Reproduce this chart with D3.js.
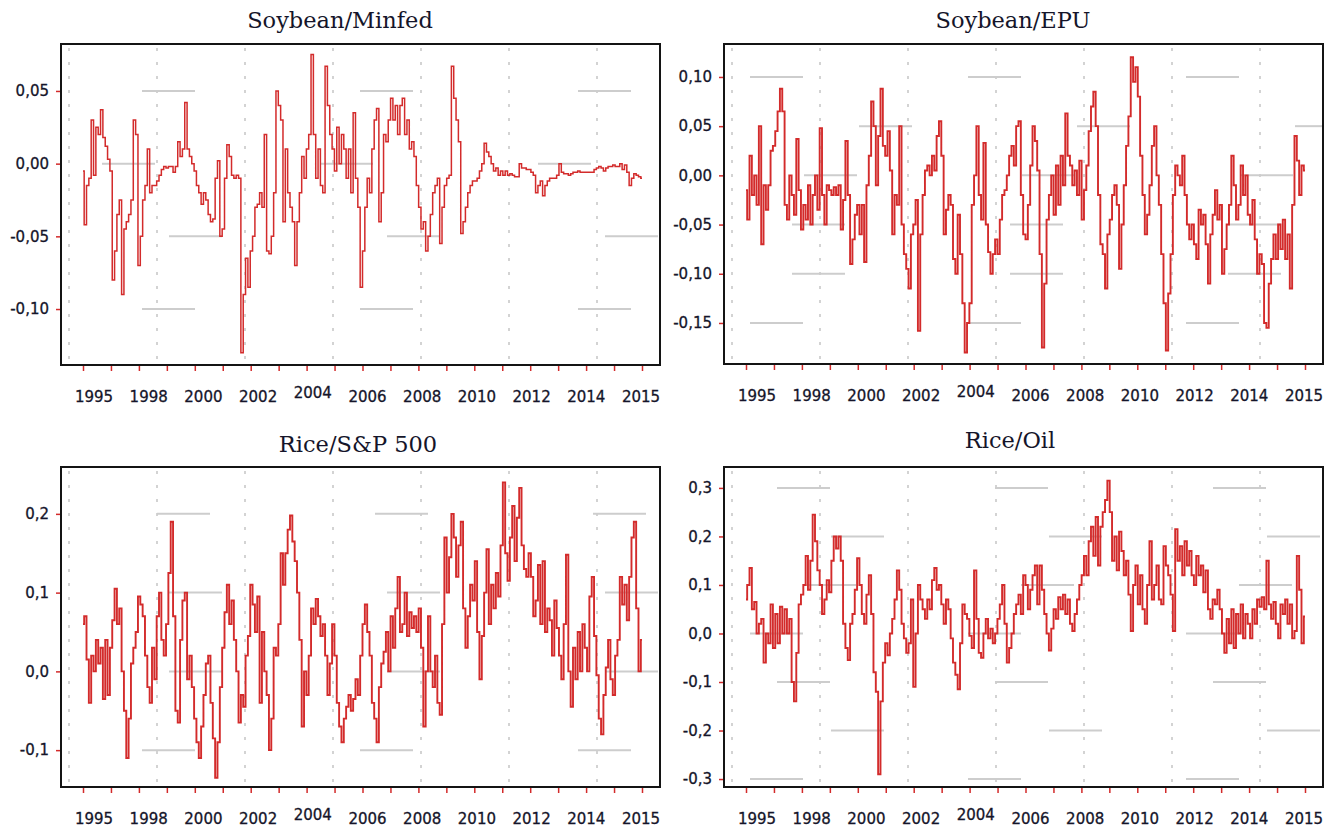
<!DOCTYPE html>
<html><head><meta charset="utf-8">
<script src="https://cdn.jsdelivr.net/npm/d3@7"></script>
<style>body{margin:0;background:#fff}</style>
</head><body>
<svg id="c" width="1342" height="831"></svg>
<script>
// Monthly values, Jan 1995 .. Dec 2014 (12 per row = one year)
const soyMinfed = [
-0.005,-0.042,-0.015,-0.01,0.03,-0.008,0.025,0.02,0.037,0.018,0.012,0.003,
-0.005,-0.08,-0.06,-0.035,-0.025,-0.09,-0.045,-0.04,-0.035,-0.025,0.03,0.02,
-0.07,-0.05,-0.025,-0.015,0.01,-0.02,-0.015,-0.015,-0.012,-0.008,-0.004,-0.002,
-0.003,-0.002,-0.002,-0.006,-0.002,0.015,0.005,0.01,0.042,0.01,0.005,0,
-0.005,-0.015,-0.02,-0.028,-0.02,-0.025,-0.035,-0.04,-0.038,-0.01,0.002,-0.05,
-0.045,-0.01,0.013,0.005,-0.008,-0.01,-0.008,-0.01,-0.13,-0.09,-0.065,-0.085,
-0.06,-0.05,-0.03,-0.028,-0.02,-0.03,0.02,-0.06,-0.062,-0.05,-0.02,0.05,
0.04,0.03,-0.04,0.01,-0.02,-0.03,-0.04,-0.07,-0.04,-0.02,0.005,-0.01,
0.01,0.02,0.075,0.02,-0.01,0.01,-0.015,-0.02,0.067,0.04,0.02,0.01,
-0.005,0.025,0,0.02,0.01,-0.01,0.01,-0.02,0.035,-0.01,-0.03,-0.085,
-0.06,-0.03,-0.01,-0.02,0.01,0.03,0.038,-0.04,-0.02,0.02,0.015,0.03,
0.045,0.03,0.04,0.02,0.04,0.045,0.02,0.03,0.01,0.015,0.005,-0.015,
-0.03,-0.045,-0.04,-0.06,-0.05,-0.035,-0.02,-0.015,-0.01,-0.055,-0.03,-0.015,
-0.01,-0.008,0.067,0.045,0.03,0.015,-0.048,-0.04,-0.03,-0.02,-0.015,-0.012,
-0.012,-0.01,-0.005,0,0.014,0.008,0.005,0,-0.005,-0.003,-0.008,-0.005,
-0.008,-0.005,-0.008,-0.007,-0.008,-0.009,-0.009,0,-0.003,-0.003,-0.004,-0.004,
-0.006,-0.008,-0.02,-0.015,-0.012,-0.022,-0.015,-0.012,-0.01,-0.01,-0.01,-0.008,
0,-0.006,-0.007,-0.007,-0.008,-0.007,-0.006,-0.006,-0.005,-0.006,-0.006,-0.006,
-0.006,-0.006,-0.006,-0.004,-0.003,-0.002,-0.003,-0.005,-0.003,-0.002,-0.002,-0.001,
-0.002,-0.002,0,-0.004,-0.001,-0.006,-0.015,-0.01,-0.007,-0.008,-0.009,-0.01];

const soyEPU = [
-0.015,-0.045,0.02,-0.02,0.0,-0.03,0.05,-0.07,-0.01,-0.035,-0.01,0.025,
0.03,0.045,0.065,0.088,0.065,-0.03,-0.045,0.0,-0.02,-0.04,0.037,-0.015,
-0.055,-0.03,-0.045,-0.01,-0.05,-0.02,0.0,-0.035,0.048,-0.02,-0.05,-0.01,
-0.015,-0.02,-0.012,-0.02,-0.01,-0.055,-0.025,0.035,-0.02,-0.09,-0.065,-0.04,
-0.03,-0.06,-0.03,-0.088,-0.01,0.02,0.075,0.05,-0.01,0.04,0.088,0.03,
0.02,0.045,0.005,-0.06,-0.02,-0.03,0.05,-0.05,-0.08,-0.095,-0.115,-0.06,
-0.05,-0.025,-0.158,-0.06,-0.02,0.005,0.01,0.0,0.02,0.005,0.04,0.055,
0.02,-0.06,-0.035,-0.02,-0.03,-0.085,-0.1,-0.04,-0.08,-0.13,-0.18,-0.15,
-0.13,-0.03,0.0,0.05,-0.02,-0.045,0.033,-0.05,-0.078,-0.1,-0.08,-0.065,
-0.08,-0.045,-0.02,-0.015,0.0,0.02,0.03,0.01,0.05,0.055,-0.02,-0.06,
-0.065,-0.03,0.01,0.05,0.035,0.005,-0.08,-0.175,-0.11,-0.045,-0.02,0.0,
-0.04,0.01,-0.03,0.02,-0.01,0.063,0.02,0.01,-0.01,0.005,-0.02,0.015,
-0.045,-0.015,0.01,0.045,0.07,0.085,0.05,-0.02,-0.07,-0.08,-0.115,-0.06,
-0.045,-0.02,-0.01,-0.03,-0.095,-0.05,-0.01,0.03,0.06,0.12,0.095,0.11,
0.08,0.02,-0.02,-0.06,-0.04,-0.01,0.03,0.05,0.0,-0.03,-0.08,-0.13,
-0.178,-0.12,-0.08,-0.02,0.01,0.0,-0.01,0.02,-0.02,-0.05,-0.065,-0.05,
-0.07,-0.085,-0.035,-0.05,-0.04,-0.07,-0.11,-0.06,-0.04,-0.015,-0.045,-0.03,
-0.1,-0.075,-0.05,-0.03,0.02,-0.01,-0.045,-0.03,0.01,-0.02,0.0,-0.04,
-0.05,-0.025,-0.065,-0.1,-0.08,-0.09,-0.15,-0.155,-0.11,-0.085,-0.06,-0.085,
-0.05,-0.075,-0.045,-0.085,-0.06,-0.115,-0.03,0.04,0.015,-0.02,0.01,0.005];

const riceSP500 = [
0.06,0.07,0.015,-0.04,0.02,0.0,0.04,0.01,0.03,-0.035,0.04,-0.03,
0.03,0.065,0.105,0.06,0.08,0.0,-0.05,-0.11,-0.06,0.01,0.03,0.05,
0.095,0.085,0.07,0.02,-0.02,-0.04,0.03,-0.01,0.07,0.1,0.04,0.02,
0.06,0.125,0.19,0.07,-0.05,-0.065,0.04,0.09,0.1,-0.01,0.02,-0.02,
-0.06,-0.09,-0.11,-0.07,-0.03,0.01,0.02,-0.04,-0.085,-0.135,-0.09,-0.02,
0.03,0.075,0.11,0.06,0.09,0.04,0.0,-0.065,-0.03,-0.045,0.02,0.045,
0.11,0.085,0.05,0.095,-0.04,0.05,0.0,-0.03,-0.1,-0.06,0.03,0.02,
0.06,0.15,0.11,0.15,0.18,0.198,0.165,0.14,0.1,0.04,-0.07,0.0,
-0.03,0.02,0.08,0.06,0.092,0.07,0.045,0.06,0.02,-0.03,0.01,0.06,
0.02,-0.04,-0.07,-0.09,-0.06,-0.045,-0.03,-0.05,-0.035,-0.01,-0.03,0.02,
0.06,0.085,0.05,0.02,-0.04,-0.06,-0.09,-0.02,0.01,0.025,0.05,0.0,
0.07,0.03,0.08,0.12,0.05,0.06,0.1,0.045,0.075,0.055,0.07,0.05,
0.08,0.03,-0.07,0.0,0.07,0.0,-0.02,0.02,-0.04,-0.055,0.06,0.17,
0.1,0.145,0.2,0.17,0.12,0.16,0.19,0.08,0.03,0.07,0.11,0.09,
0.14,0.05,-0.01,0.045,0.1,0.155,0.06,0.11,0.08,0.125,0.095,0.16,
0.24,0.15,0.115,0.17,0.21,0.14,0.195,0.233,0.16,0.13,0.12,0.15,
0.12,0.07,0.09,0.135,0.06,0.14,0.05,0.08,0.065,0.02,0.09,0.055,
0.02,-0.01,0.06,0.148,0.0,-0.045,0.03,-0.01,0.05,0.0,0.06,0.03,
0.0,0.095,0.12,0.045,-0.005,-0.06,-0.08,-0.03,0.005,0.04,-0.01,-0.03,
0.02,0.04,0.12,0.085,0.11,0.065,0.12,0.17,0.19,0.08,0.0,0.04];

const riceOil = [
0.07,0.1,0.135,0.05,0.065,0.0,0.02,0.03,-0.06,0.0,-0.02,0.06,
-0.03,0.04,-0.02,0.055,0.0,0.05,0.0,0.03,-0.1,-0.14,-0.04,0.06,
0.08,0.1,0.16,0.09,0.15,0.245,0.19,0.13,0.1,0.04,0.07,0.11,
0.085,0.15,0.2,0.175,0.2,0.15,0.02,-0.03,-0.055,0.02,0.04,0.09,
0.155,0.1,0.04,0.02,0.08,0.12,0.04,-0.08,-0.12,-0.29,-0.14,-0.06,
-0.02,-0.045,0.0,0.03,0.07,0.13,0.09,0.02,-0.01,-0.04,-0.02,0.07,
-0.11,0.0,0.1,0.07,0.05,0.03,0.07,0.05,0.11,0.135,0.09,0.1,
0.06,0.02,0.07,0.05,-0.01,-0.06,-0.085,-0.115,-0.02,0.06,0.04,0.03,
-0.005,-0.03,0.13,0.03,-0.04,-0.05,0.0,0.03,-0.01,0.01,-0.02,0.0,
0.03,0.06,0.1,0.02,-0.06,-0.03,0.0,0.04,0.06,0.08,0.04,0.12,
0.1,0.05,0.09,0.12,0.14,0.06,0.14,0.09,0.04,0.0,-0.035,0.01,
0.05,0.03,0.075,0.05,0.08,0.04,0.07,0.02,0.005,0.04,0.07,0.1,
0.12,0.16,0.12,0.19,0.22,0.16,0.24,0.14,0.22,0.25,0.275,0.315,
0.25,0.15,0.2,0.13,0.21,0.17,0.12,0.15,0.08,0.005,0.1,0.14,
0.06,0.12,0.05,0.02,0.1,0.19,0.07,0.1,0.14,0.07,0.06,0.18,
0.14,0.12,0.08,0.005,0.215,0.15,0.18,0.12,0.19,0.14,0.17,0.12,
0.1,0.16,0.12,0.14,0.085,0.13,0.05,0.03,0.07,0.06,0.09,0.05,
0.0,-0.04,0.03,-0.02,0.05,-0.03,0.04,0.0,0.06,-0.01,0.04,0.02,
-0.01,0.05,0.02,0.07,0.055,0.075,0.05,0.15,0.06,0.03,0.065,0.02,
-0.01,0.06,0.04,0.07,0.02,0.06,-0.01,0.005,0.16,0.09,-0.02,0.035];

const yearLabels = ["1995","1998","2000","2002","2004","2006","2008","2010","2012","2014","2015"];
const yearTicks = d3.range(1995, 2016);
const ticksSoyMinfed = [0.05, 0, -0.05, -0.10];
const ticksSoyEPU = [0.10, 0.05, 0, -0.05, -0.10, -0.15];
const ticksRiceSP = [0.2, 0.1, 0, -0.1];
const ticksRiceOil = [0.3, 0.2, 0.1, 0, -0.1, -0.2, -0.3];
const titles = ["Soybean/Minfed", "Soybean/EPU", "Rice/S&P 500", "Rice/Oil"];

const panels = [
  {title: titles[0], data: soyMinfed, ticks: ticksSoyMinfed, fmt: ".2f", yDomain: [-0.1385, 0.0823],
   box: {x: 61, y: 44, w: 599, h: 321}, tx: 340, ty: 28, gridOff: [81, 41, 108, 81], sw: 1.5},
  {title: titles[1], data: soyEPU, ticks: ticksSoyEPU, fmt: ".2f", yDomain: [-0.1917, 0.1335],
   box: {x: 724, y: 44, w: 599, h: 320}, tx: 1013, ty: 28, gridOff: [26, 135, 80, 68, 68, 26], sw: 1.9},
  {title: titles[2], data: riceSP500, ticks: ticksRiceSP, fmt: ".1f", yDomain: [-0.1468, 0.2595],
   box: {x: 61, y: 467, w: 599, h: 320}, tx: 358, ty: 452, gridOff: [96, 108, 108, 81], sw: 1.9},
  {title: titles[3], data: riceOil, ticks: ticksRiceOil, fmt: ".1f", yDomain: [-0.3164, 0.3431],
   box: {x: 724, y: 467, w: 599, h: 320}, tx: 1010, ty: 448, gridOff: [53, 107, 79, 26, 53, 107, 26], sw: 1.9}
];

const loc = d3.formatLocale({decimal: ",", thousands: ".", grouping: [3], currency: ["", ""], minus: "-"});
const svg = d3.select("#c");
const RED = "#d32b2b";
const TXT = "#15152a";
const LBL_FONT = "15px 'DejaVu Sans'";

panels.forEach(p => {
  const {x: bx, y: by, w, h} = p.box;
  const g = svg.append("g");
  const xs = d3.scaleLinear().domain([1995, 2015]).range([bx + 22, bx + 581]);
  const ys = d3.scaleLinear().domain(p.yDomain).range([by + h, by]);

  // vertical dotted grid
  d3.range(7).forEach(k => {
    g.append("line").attr("x1", bx + 8 + 88 * k).attr("x2", bx + 8 + 88 * k)
      .attr("y1", by + 4).attr("y2", by + h - 2)
      .attr("stroke", "#c9c9c9").attr("stroke-width", 1.6).attr("stroke-dasharray", "3 11");
  });
  // horizontal dashed grid
  p.ticks.forEach((t, j) => {
    g.append("line").attr("x1", bx).attr("x2", bx + w).attr("y1", ys(t)).attr("y2", ys(t))
      .attr("stroke", "#cdcdcd").attr("stroke-width", 2)
      .attr("stroke-dasharray", "53 165").attr("stroke-dashoffset", 218 - p.gridOff[j]);
  });

  // series
  const n = p.data.length;
  const line = d3.line()
    .x((d, i) => xs(1995 + 20 * i / (n - 1)))
    .y(d => ys(d))
    .curve(d3.curveStep);
  g.append("path").datum(p.data).attr("d", line)
    .attr("fill", "none").attr("stroke", RED).attr("stroke-width", p.sw);

  // frame
  g.append("rect").attr("x", bx).attr("y", by).attr("width", w).attr("height", h)
    .attr("fill", "none").attr("stroke", "#141414").attr("stroke-width", 2);

  // y axis
  const ya = g.append("g").attr("transform", `translate(${bx - 1},0)`)
    .call(d3.axisLeft(ys).tickValues(p.ticks).tickSize(4).tickPadding(7).tickFormat(loc.format(p.fmt)));
  ya.select(".domain").remove();
  ya.selectAll(".tick line").attr("stroke", RED).attr("stroke-width", 1.5);
  ya.selectAll(".tick text").attr("fill", TXT).style("font", LBL_FONT).style("stroke", TXT).style("stroke-width", 0.3);

  // x axis (red ticks only)
  const xa = g.append("g").attr("transform", `translate(0,${by + h + 1})`)
    .call(d3.axisBottom(xs).tickValues(yearTicks).tickSize(5).tickFormat(""));
  xa.select(".domain").remove();
  xa.selectAll(".tick line").attr("stroke", RED).attr("stroke-width", 1.5);

  // year labels row
  const lp = d3.scalePoint().domain(yearLabels).range([bx + 33, bx + 580]);
  g.selectAll("text.yl").data(yearLabels).join("text").attr("class", "yl")
    .attr("x", d => lp(d)).attr("y", d => by + h + 37 - (d === "2004" ? 4 : 0))
    .attr("text-anchor", "middle").attr("fill", TXT)
    .style("font", LBL_FONT).style("stroke", TXT).style("stroke-width", 0.3).text(d => d);

  // title
  g.append("text").attr("x", p.tx).attr("y", p.ty).attr("text-anchor", "middle")
    .attr("fill", TXT).style("font-family", "DejaVu Serif").style("font-size", "22.5px").text(p.title);
});
</script>
</body></html>
